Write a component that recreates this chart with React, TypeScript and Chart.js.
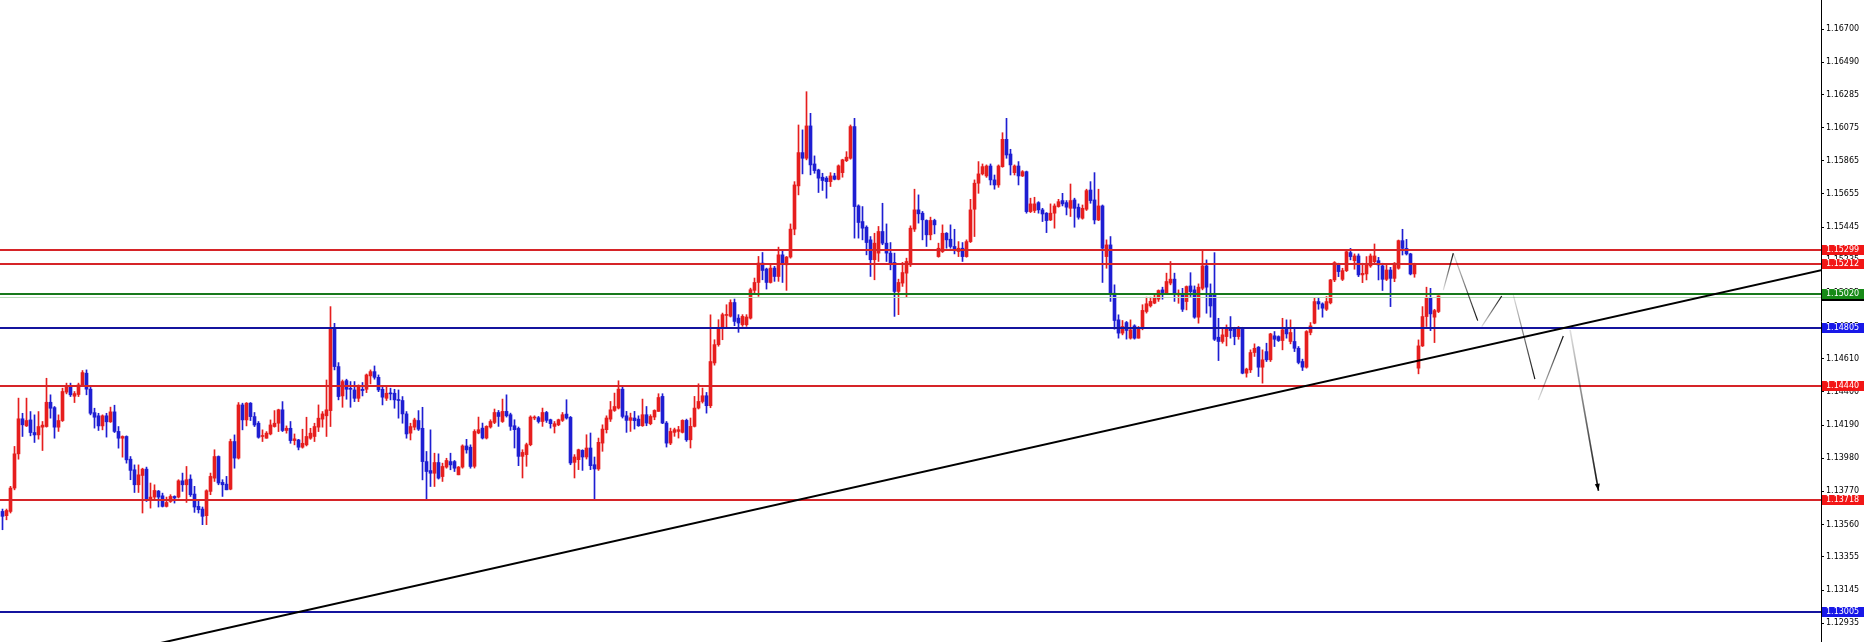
import React, { useEffect, useRef } from 'react';
import { Chart, registerables } from 'chart.js';

Chart.register(...registerables);

// ---- candle data (index 0..359) ----
const OPEN = [
1.13643,1.13616,1.13643,1.13791,1.14008,1.14230,1.14185,1.14223,1.14143,1.14128,
1.14177,1.14181,1.14335,1.14301,1.14177,1.14219,1.14399,1.14439,1.14373,1.14384,
1.14445,1.14519,1.14418,1.14269,1.14249,1.14185,1.14249,1.14211,1.14274,1.14150,
1.14107,1.14118,1.13974,1.13907,1.13812,1.13871,1.13911,1.13721,1.13734,1.13772,
1.13742,1.13675,1.13706,1.13738,1.13734,1.13837,1.13812,1.13848,1.13753,1.13675,
1.13658,1.13616,1.13770,1.13854,1.13991,1.13827,1.13816,1.13784,1.14086,1.13981,
1.14318,1.14223,1.14329,1.14244,1.14202,1.14118,1.14107,1.14134,1.14181,1.14202,
1.14287,1.14156,1.14170,1.14092,1.14096,1.14050,1.14065,1.14107,1.14118,1.14177,
1.14228,1.14249,1.14282,1.14808,1.14561,1.14375,1.14472,1.14421,1.14413,1.14360,
1.14417,1.14417,1.14502,1.14529,1.14493,1.14417,1.14360,1.14392,1.14392,1.14350,
1.14346,1.14261,1.14139,1.14177,1.14219,1.14170,1.13959,1.13902,1.13885,1.13953,
1.13864,1.13924,1.13959,1.13959,1.13875,1.13924,1.14058,1.14050,1.13929,1.14140,
1.14171,1.14108,1.14178,1.14207,1.14270,1.14213,1.14277,1.14256,1.14186,1.14169,
1.13992,1.14003,1.14066,1.14235,1.14237,1.14213,1.14270,1.14224,1.14182,1.14192,
1.14220,1.14260,1.14239,1.13954,1.13971,1.14030,1.13988,1.14045,1.13939,1.13912,
1.14076,1.14161,1.14228,1.14283,1.14298,1.14418,1.14249,1.14220,1.14235,1.14228,
1.14186,1.14256,1.14199,1.14241,1.14277,1.14372,1.14203,1.14076,1.14144,1.14150,
1.14144,1.14220,1.14097,1.14182,1.14298,1.14340,1.14376,1.14313,1.14584,1.14700,
1.14805,1.14885,1.14880,1.14967,1.14868,1.14826,1.14826,1.14868,1.15044,1.15094,
1.15217,1.15179,1.15094,1.15185,1.15132,1.15269,1.15206,1.15255,1.15432,1.15706,
1.15917,1.15881,1.16086,1.15845,1.15807,1.15761,1.15755,1.15733,1.15769,1.15748,
1.15790,1.15866,1.15881,1.16082,1.15579,1.15480,1.15444,1.15364,1.15238,1.15280,
1.15417,1.15343,1.15280,1.15221,1.15037,1.15090,1.15153,1.15206,1.15432,1.15554,
1.15533,1.15487,1.15396,1.15487,1.15258,1.15290,1.15406,1.15368,1.15322,1.15290,
1.15311,1.15258,1.15353,1.15558,1.15723,1.15782,1.15769,1.15832,1.15744,1.15712,
1.15828,1.16001,1.15908,1.15790,1.15832,1.15769,1.15796,1.15543,1.15550,1.15600,
1.15554,1.15533,1.15490,1.15533,1.15575,1.15613,1.15600,1.15564,1.15617,1.15571,
1.15501,1.15558,1.15680,1.15617,1.15490,1.15579,1.15258,1.15332,1.15026,1.14857,
1.14773,1.14840,1.14741,1.14819,1.14741,1.14805,1.14910,1.14946,1.14963,1.14988,
1.15047,1.15026,1.15090,1.15115,1.15015,1.15021,1.14973,1.15072,1.15047,1.14874,
1.15057,1.15199,1.15015,1.15015,1.14747,1.14720,1.14751,1.14804,1.14798,1.14751,
1.14804,1.14519,1.14540,1.14650,1.14684,1.14557,1.14656,1.14604,1.14756,1.14751,
1.14726,1.14798,1.14720,1.14720,1.14677,1.14593,1.14557,1.14777,1.14836,1.14973,
1.14958,1.14924,1.14965,1.15110,1.15211,1.15114,1.15169,1.15283,1.15232,1.15262,
1.15142,1.15148,1.15199,1.15226,1.15232,1.15199,1.15114,1.15173,1.15120,1.15184,
1.15359,1.15310,1.15275,1.15148,1.14551,1.14692,1.14878,1.14994,1.14874,1.14910,
];
const HIGH = [
1.13658,1.13658,1.13802,1.14055,1.14361,1.14265,1.14361,1.14276,1.14255,1.14276,
1.14213,1.14487,1.14382,1.14308,1.14255,1.14424,1.14456,1.14456,1.14403,1.14456,
1.14536,1.14540,1.14430,1.14297,1.14265,1.14255,1.14265,1.14304,1.14316,1.14181,
1.14122,1.14122,1.13991,1.13938,1.13938,1.13917,1.13924,1.13823,1.13812,1.13776,
1.13759,1.13734,1.13749,1.13742,1.13844,1.13886,1.13928,1.13875,1.13802,1.13717,
1.13671,1.13780,1.13886,1.14034,1.13995,1.13844,1.13865,1.14101,1.14128,1.14333,
1.14329,1.14333,1.14333,1.14270,1.14213,1.14160,1.14149,1.14223,1.14282,1.14291,
1.14339,1.14185,1.14213,1.14134,1.14100,1.14164,1.14240,1.14170,1.14202,1.14318,
1.14276,1.14476,1.14941,1.14835,1.14586,1.14476,1.14481,1.14466,1.14466,1.14445,
1.14460,1.14514,1.14540,1.14565,1.14508,1.14430,1.14434,1.14424,1.14417,1.14413,
1.14371,1.14276,1.14202,1.14234,1.14282,1.14303,1.14023,1.14160,1.14012,1.14008,
1.13949,1.13980,1.14012,1.13966,1.13928,1.14065,1.14100,1.14065,1.14161,1.14241,
1.14203,1.14186,1.14224,1.14292,1.14283,1.14355,1.14382,1.14266,1.14224,1.14178,
1.14034,1.14076,1.14249,1.14249,1.14245,1.14298,1.14277,1.14228,1.14213,1.14228,
1.14270,1.14351,1.14245,1.14003,1.14038,1.14034,1.14129,1.14140,1.13988,1.14108,
1.14192,1.14249,1.14340,1.14393,1.14471,1.14435,1.14277,1.14266,1.14277,1.14249,
1.14355,1.14308,1.14256,1.14287,1.14389,1.14389,1.14213,1.14171,1.14171,1.14182,
1.14224,1.14228,1.14235,1.14372,1.14452,1.14425,1.14397,1.14889,1.14731,1.14858,
1.14900,1.14953,1.14984,1.14989,1.14890,1.14890,1.14890,1.15058,1.15122,1.15259,
1.15284,1.15185,1.15206,1.15196,1.15318,1.15301,1.15259,1.15465,1.15733,1.16092,
1.16061,1.16303,1.16166,1.15896,1.15812,1.15786,1.15765,1.15790,1.15786,1.15839,
1.15875,1.15923,1.16092,1.16134,1.15586,1.15575,1.15453,1.15385,1.15406,1.15449,
1.15596,1.15465,1.15347,1.15280,1.15115,1.15221,1.15248,1.15453,1.15685,1.15649,
1.15544,1.15491,1.15508,1.15495,1.15343,1.15459,1.15410,1.15459,1.15431,1.15353,
1.15347,1.15364,1.15621,1.15744,1.15860,1.15845,1.15839,1.15845,1.15775,1.15839,
1.16043,1.16134,1.15938,1.15839,1.15860,1.15803,1.15800,1.15628,1.15634,1.15606,
1.15564,1.15537,1.15592,1.15592,1.15621,1.15659,1.15613,1.15718,1.15628,1.15592,
1.15585,1.15685,1.15733,1.15790,1.15685,1.15585,1.15364,1.15385,1.15079,1.14889,
1.14853,1.14847,1.14857,1.14826,1.14815,1.14953,1.15001,1.15001,1.15016,1.15047,
1.15064,1.15153,1.15227,1.15153,1.15047,1.15057,1.15072,1.15156,1.15072,1.15085,
1.15300,1.15237,1.15085,1.15283,1.14867,1.14804,1.14825,1.14878,1.14810,1.14815,
1.14810,1.14551,1.14667,1.14705,1.14688,1.14667,1.14709,1.14772,1.14783,1.14756,
1.14867,1.14857,1.14857,1.14810,1.14688,1.14608,1.14789,1.14840,1.14994,1.14994,
1.14965,1.15005,1.15114,1.15226,1.15216,1.15184,1.15304,1.15310,1.15275,1.15275,
1.15216,1.15258,1.15275,1.15338,1.15253,1.15216,1.15205,1.15190,1.15220,1.15363,
1.15431,1.15367,1.15279,1.15216,1.14730,1.14941,1.15064,1.15057,1.14924,1.15009,
];
const LOW = [
1.13527,1.13590,1.13633,1.13780,1.13974,1.14118,1.14181,1.14122,1.14080,1.14101,
1.14029,1.14177,1.14234,1.14107,1.14150,1.14213,1.14388,1.14371,1.14333,1.14371,
1.14434,1.14382,1.14255,1.14171,1.14156,1.14160,1.14114,1.14207,1.14143,1.14044,
1.13987,1.13949,1.13844,1.13763,1.13763,1.13633,1.13706,1.13664,1.13717,1.13671,
1.13671,1.13671,1.13700,1.13696,1.13728,1.13770,1.13700,1.13738,1.13637,1.13633,
1.13559,1.13559,1.13749,1.13833,1.13812,1.13738,1.13780,1.13780,1.13917,1.13975,
1.14160,1.14185,1.14219,1.14181,1.14107,1.14086,1.14107,1.14128,1.14177,1.14149,
1.14149,1.14139,1.14075,1.14065,1.14033,1.14044,1.14058,1.14100,1.14086,1.14149,
1.14177,1.14118,1.14181,1.14540,1.14350,1.14303,1.14354,1.14303,1.14339,1.14339,
1.14375,1.14396,1.14451,1.14481,1.14402,1.14318,1.14346,1.14350,1.14297,1.14234,
1.14202,1.14107,1.14096,1.14160,1.14156,1.13843,1.13712,1.13801,1.13801,1.13848,
1.13833,1.13917,1.13907,1.13896,1.13875,1.13917,1.14012,1.13917,1.13918,1.14135,
1.14102,1.14102,1.14171,1.14199,1.14182,1.14207,1.14241,1.14157,1.14045,1.13933,
1.13855,1.13929,1.14059,1.14224,1.14203,1.14182,1.14207,1.14171,1.14140,1.14186,
1.14213,1.14228,1.13939,1.13855,1.13908,1.13903,1.13975,1.13908,1.13722,1.13903,
1.14024,1.14140,1.14213,1.14277,1.14292,1.14235,1.14144,1.14150,1.14165,1.14182,
1.14182,1.14186,1.14192,1.14224,1.14277,1.14199,1.14051,1.14066,1.14119,1.14108,
1.14140,1.14087,1.14045,1.14178,1.14292,1.14330,1.14266,1.14300,1.14570,1.14690,
1.14731,1.14805,1.14875,1.14820,1.14778,1.14816,1.14816,1.14862,1.15027,1.15006,
1.15111,1.15052,1.15090,1.15101,1.15101,1.15094,1.15044,1.15248,1.15396,1.15649,
1.15782,1.15871,1.15776,1.15786,1.15664,1.15677,1.15628,1.15702,1.15744,1.15744,
1.15761,1.15860,1.15875,1.15375,1.15375,1.15364,1.15269,1.15132,1.15111,1.15227,
1.15333,1.15227,1.15174,1.14879,1.14890,1.15069,1.15001,1.15195,1.15417,1.15470,
1.15364,1.15322,1.15364,1.15402,1.15254,1.15284,1.15311,1.15311,1.15275,1.15258,
1.15227,1.15254,1.15347,1.15385,1.15659,1.15775,1.15760,1.15712,1.15685,1.15697,
1.15824,1.15881,1.15775,1.15775,1.15712,1.15765,1.15533,1.15537,1.15537,1.15533,
1.15480,1.15410,1.15486,1.15438,1.15571,1.15579,1.15522,1.15512,1.15444,1.15495,
1.15495,1.15550,1.15596,1.15465,1.15486,1.15094,1.15184,1.14974,1.14798,1.14741,
1.14762,1.14735,1.14735,1.14735,1.14741,1.14794,1.14900,1.14938,1.14959,1.14974,
1.14988,1.15022,1.15079,1.14974,1.14962,1.14910,1.14920,1.15005,1.14867,1.14836,
1.15047,1.14899,1.14874,1.14726,1.14599,1.14709,1.14692,1.14741,1.14699,1.14734,
1.14515,1.14494,1.14523,1.14625,1.14498,1.14456,1.14593,1.14593,1.14688,1.14720,
1.14667,1.14741,1.14705,1.14656,1.14578,1.14536,1.14551,1.14762,1.14832,1.14924,
1.14874,1.14916,1.14958,1.15099,1.15131,1.15106,1.15163,1.15237,1.15178,1.15131,
1.15093,1.15110,1.15190,1.15216,1.15110,1.15043,1.15106,1.14941,1.15099,1.15178,
1.15268,1.15268,1.15142,1.15127,1.14515,1.14688,1.14815,1.14789,1.14713,1.14903,
];
const CLOSE = [
1.13612,1.13649,1.13791,1.14008,1.14230,1.14192,1.14219,1.14143,1.14128,1.14181,
1.14190,1.14335,1.14297,1.14177,1.14219,1.14403,1.14439,1.14382,1.14390,1.14445,
1.14523,1.14418,1.14265,1.14240,1.14185,1.14249,1.14211,1.14274,1.14150,1.14107,
1.14118,1.13970,1.13903,1.13812,1.13875,1.13911,1.13721,1.13734,1.13776,1.13734,
1.13675,1.13700,1.13738,1.13728,1.13837,1.13812,1.13844,1.13749,1.13671,1.13654,
1.13612,1.13774,1.13865,1.13991,1.13823,1.13812,1.13780,1.14086,1.13981,1.14318,
1.14223,1.14329,1.14244,1.14191,1.14113,1.14118,1.14139,1.14191,1.14202,1.14287,
1.14156,1.14170,1.14092,1.14103,1.14050,1.14075,1.14118,1.14139,1.14181,1.14234,
1.14261,1.14287,1.14808,1.14561,1.14371,1.14466,1.14417,1.14417,1.14360,1.14434,
1.14409,1.14508,1.14529,1.14493,1.14413,1.14367,1.14392,1.14388,1.14350,1.14346,
1.14261,1.14134,1.14181,1.14223,1.14164,1.13959,1.13896,1.13885,1.13953,1.13854,
1.13928,1.13966,1.13938,1.13917,1.13924,1.14058,1.14033,1.13928,1.14150,1.14161,
1.14108,1.14182,1.14213,1.14270,1.14245,1.14277,1.14249,1.14182,1.14161,1.13992,
1.14017,1.14066,1.14241,1.14241,1.14213,1.14270,1.14220,1.14199,1.14199,1.14224,
1.14256,1.14235,1.13950,1.13988,1.14034,1.13988,1.14045,1.13933,1.13912,1.14081,
1.14165,1.14235,1.14287,1.14308,1.14418,1.14245,1.14220,1.14237,1.14218,1.14186,
1.14256,1.14203,1.14245,1.14283,1.14365,1.14203,1.14076,1.14150,1.14161,1.14161,
1.14220,1.14097,1.14182,1.14298,1.14340,1.14376,1.14313,1.14593,1.14700,1.14805,
1.14890,1.14890,1.14967,1.14847,1.14837,1.14879,1.14875,1.15048,1.15094,1.15217,
1.15170,1.15094,1.15185,1.15132,1.15269,1.15217,1.15255,1.15432,1.15712,1.15917,
1.15881,1.16086,1.15839,1.15803,1.15755,1.15740,1.15733,1.15769,1.15748,1.15833,
1.15871,1.15888,1.16082,1.15575,1.15474,1.15438,1.15347,1.15238,1.15343,1.15417,
1.15343,1.15280,1.15217,1.15037,1.15094,1.15157,1.15227,1.15438,1.15554,1.15529,
1.15491,1.15396,1.15487,1.15459,1.15311,1.15406,1.15364,1.15322,1.15305,1.15311,
1.15258,1.15353,1.15554,1.15723,1.15782,1.15828,1.15832,1.15744,1.15712,1.15832,
1.16001,1.15902,1.15839,1.15832,1.15769,1.15796,1.15543,1.15592,1.15592,1.15554,
1.15528,1.15486,1.15533,1.15579,1.15606,1.15592,1.15571,1.15613,1.15564,1.15507,
1.15564,1.15676,1.15613,1.15490,1.15579,1.15311,1.15332,1.15026,1.14853,1.14773,
1.14815,1.14790,1.14794,1.14741,1.14805,1.14917,1.14959,1.14974,1.14995,1.15043,
1.15030,1.15100,1.15115,1.15022,1.15026,1.14924,1.15068,1.15036,1.14874,1.15064,
1.15199,1.15064,1.14945,1.14734,1.14720,1.14762,1.14798,1.14789,1.14751,1.14804,
1.14519,1.14545,1.14650,1.14677,1.14557,1.14604,1.14604,1.14768,1.14734,1.14726,
1.14794,1.14768,1.14777,1.14677,1.14587,1.14557,1.14783,1.14819,1.14973,1.14958,
1.14931,1.14973,1.15110,1.15220,1.15163,1.15169,1.15289,1.15258,1.15262,1.15142,
1.15152,1.15205,1.15262,1.15262,1.15205,1.15114,1.15173,1.15120,1.15216,1.15359,
1.15310,1.15275,1.15148,1.15211,1.14692,1.14878,1.14994,1.14895,1.14916,1.15009,
];

// ---- price axis ticks ----
const Y_TICKS = [1.167, 1.1649, 1.16285, 1.16075, 1.15865, 1.15655, 1.15445, 1.15235, 1.15025,
  1.14815, 1.1461, 1.144, 1.1419, 1.1398, 1.1377, 1.1356, 1.13355, 1.13145, 1.12935];

// ---- horizontal levels ----
const RED_LEVELS = [1.15299, 1.15212, 1.1444, 1.13718];
const GREEN_LEVELS = [1.1502];
const BLUE_LEVELS = [1.14805, 1.13005];

// ---- trend line (candle index, price) ----
const TREND_X = [-5, 455];
const TREND_Y = [1.12556, 1.15173];

// ---- projected zig-zag path (candle index, price), each pair = one stroke ----
const PATH_X = [[360.2, 362.7], [362.7, 368.8], [369.8, 374.8], [377.7, 383.1], [383.95, 390.2], [391.9, 399.0]];
const PATH_Y = [[1.15046, 1.15279], [1.15279, 1.14852], [1.14814, 1.15008], [1.15015, 1.14482], [1.14349, 1.14755], [1.14793, 1.13774]];

const BULL = '#e61e1e';
const BEAR = '#1e1ed2';
const LINE_RED = '#d62428';
const LINE_GREEN = '#17791b';
const LINE_BLUE = '#14149e';
const BOX_RED = '#f21616';
const BOX_GREEN = '#178a17';
const BOX_BLUE = '#1818e8';
const FONT = '"DejaVu Sans", sans-serif';

export default function App() {
  const ref = useRef<HTMLCanvasElement | null>(null);

  useEffect(() => {
    document.body.style.margin = '0';
    const canvas = ref.current;
    if (!canvas) return;
    const colors = OPEN.map((o, i) => (CLOSE[i] >= o ? BULL : BEAR));

    const overlay = {
      id: 'overlay',
      afterDatasetsDraw(chart: any) {
        const { ctx, chartArea: a, scales } = chart;
        const x = scales.x, y = scales.y;
        ctx.save();
        ctx.beginPath();
        ctx.rect(a.left, a.top, a.right - a.left, a.bottom - a.top);
        ctx.clip();
        const hline = (v: number, color: string, w: number) => {
          const py = Math.round(y.getPixelForValue(v));
          ctx.fillStyle = color;
          ctx.fillRect(a.left, py - Math.floor(w / 2), a.right - a.left, w);
        };
        hline(GREEN_LEVELS[0] - 0.00016, '#b9dcb9', 1);
        RED_LEVELS.forEach((v) => hline(v, LINE_RED, 2));
        GREEN_LEVELS.forEach((v) => hline(v, LINE_GREEN, 2));
        BLUE_LEVELS.forEach((v) => hline(v, LINE_BLUE, 2));

        // trend line
        ctx.strokeStyle = '#000';
        ctx.lineWidth = 2;
        ctx.beginPath();
        ctx.moveTo(x.getPixelForValue(TREND_X[0]), y.getPixelForValue(TREND_Y[0]));
        ctx.lineTo(x.getPixelForValue(TREND_X[1]), y.getPixelForValue(TREND_Y[1]));
        ctx.stroke();

        // projected path
        PATH_X.forEach((px, k) => {
          const x1 = x.getPixelForValue(px[0]);
          const x2 = x.getPixelForValue(px[1]);
          const y1 = y.getPixelForValue(PATH_Y[k][0]);
          const y2 = y.getPixelForValue(PATH_Y[k][1]);
          const g = ctx.createLinearGradient(x1, y1, x2, y2);
          g.addColorStop(0, 'rgba(0,0,0,0.12)');
          g.addColorStop(1, 'rgba(0,0,0,0.95)');
          ctx.strokeStyle = g;
          ctx.lineWidth = k === PATH_X.length - 1 ? 1.6 : 1.2;
          ctx.beginPath();
          ctx.moveTo(x1, y1);
          ctx.lineTo(x2, y2);
          ctx.stroke();
          if (k === PATH_X.length - 1) {
            const ang = Math.atan2(y2 - y1, x2 - x1);
            const L = 7, W = 2.5;
            ctx.fillStyle = '#000';
            ctx.beginPath();
            ctx.moveTo(x2, y2);
            ctx.lineTo(x2 - L * Math.cos(ang) + W * Math.sin(ang), y2 - L * Math.sin(ang) - W * Math.cos(ang));
            ctx.lineTo(x2 - L * Math.cos(ang) - W * Math.sin(ang), y2 - L * Math.sin(ang) + W * Math.cos(ang));
            ctx.closePath();
            ctx.fill();
          }
        });
        ctx.restore();
      },
      afterDraw(chart: any) {
        const { ctx, chartArea: a, scales } = chart;
        const y = scales.y;
        const box = (v: number, color: string, shadow: boolean) => {
          const py = Math.round(y.getPixelForValue(v));
          if (shadow) {
            ctx.fillStyle = '#000';
            ctx.fillRect(a.right + 1, py + 4, 42, 3);
          }
          ctx.fillStyle = color;
          ctx.fillRect(a.right + 1, py - 5, 42, 10);
          ctx.fillStyle = '#fff';
          ctx.font = `8px ${FONT}`;
          ctx.textBaseline = 'middle';
          ctx.textAlign = 'left';
          ctx.fillText(v.toFixed(5), a.right + 5, py);
        };
        RED_LEVELS.forEach((v) => box(v, BOX_RED, false));
        GREEN_LEVELS.forEach((v) => box(v, BOX_GREEN, true));
        BLUE_LEVELS.forEach((v) => box(v, BOX_BLUE, false));
      },
    };

    const chart = new Chart(canvas, {
      type: 'bar',
      data: {
        datasets: [
          {
            label: 'body',
            data: OPEN.map((o, i) => ({ x: i, y: [o, CLOSE[i]] })) as any,
            backgroundColor: colors,
            barThickness: 3,
            minBarLength: 1,
            grouped: false,
            borderWidth: 0,
            order: 0,
          },
          {
            label: 'wick',
            data: OPEN.map((_, i) => ({ x: i, y: [LOW[i], HIGH[i]] })) as any,
            backgroundColor: colors,
            barThickness: 1,
            grouped: false,
            borderWidth: 0,
            order: 1,
          },
        ],
      },
      options: {
        animation: false,
        responsive: false,
        events: [],
        layout: { padding: 0 },
        plugins: { legend: { display: false }, tooltip: { enabled: false } },
        scales: {
          x: {
            type: 'linear',
            display: false,
            offset: false,
            min: -0.625,
            max: 454.625,
          },
          y: {
            type: 'linear',
            position: 'right',
            min: 1.128156,
            max: 1.16884,
            afterBuildTicks: (s: any) => {
              s.ticks = Y_TICKS.map((v) => ({ value: v }));
            },
            afterFit: (s: any) => {
              s.width = 45;
              s.paddingTop = 0;
              s.paddingBottom = 0;
            },
            grid: { drawOnChartArea: false, drawTicks: true, tickLength: 3, color: '#000' },
            border: { display: true, color: '#000', width: 1 },
            ticks: {
              autoSkip: false,
              padding: 2,
              color: '#000',
              font: { family: FONT, size: 8 },
              callback: (v: any) => Number(v).toFixed(5),
            },
          },
        },
      },
      plugins: [overlay],
    });
    return () => chart.destroy();
  }, []);

  return (
    <div style={{ width: 1866, height: 642, background: '#fff' }}>
      <canvas ref={ref} width={1866} height={642} style={{ display: 'block' }} />
    </div>
  );
}
